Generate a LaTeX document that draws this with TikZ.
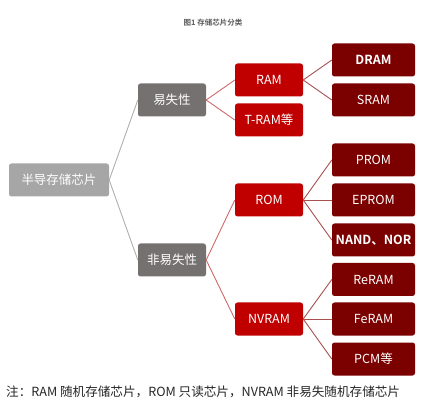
\documentclass[tikz,border=0pt]{standalone}
\usepackage{fontspec}
\setmainfont{Noto Sans CJK SC}[BoldFont={Noto Sans CJK SC Bold}]
\definecolor{rootgray}{HTML}{A6A6A6}
\definecolor{midgray}{HTML}{767171}
\definecolor{brightred}{HTML}{C00000}
\definecolor{darkred}{HTML}{7B0000}
\definecolor{linegray}{HTML}{AFAFAF}
\definecolor{linered}{HTML}{CC6A6A}
\definecolor{linedark}{HTML}{A85050}
\definecolor{titlegray}{HTML}{595959}
\definecolor{notetext}{HTML}{262626}
\tikzset{
  box/.style={rounded corners=2.5pt, text=white, align=center, inner sep=0pt,
    minimum height=33pt, font=\fontsize{12.5}{14}\selectfont},
  rootbox/.style={box, fill=rootgray, minimum width=100pt},
  graybox/.style={box, fill=midgray, minimum width=68pt},
  redbox/.style={box, fill=brightred, minimum width=68pt},
  leafbox/.style={box, fill=darkred, minimum width=83pt},
  glink/.style={draw=linegray, line width=0.9pt},
  rlink/.style={draw=linered, line width=0.9pt},
  dlink/.style={draw=linedark, line width=0.9pt},
}
\begin{document}
\begin{tikzpicture}[x=1pt,y=-1pt]
\useasboundingbox (0,0) rectangle (424,404);
\node[font=\bfseries\fontsize{7.5}{9}\selectfont, text=titlegray] (title) at (213,23) {图1 存储芯片分类};

\node[rootbox] (root) at (59,180) {半导存储芯片};
\node[graybox] (vol) at (172,100) {易失性};
\node[graybox] (nonvol) at (172,260) {非易失性};

\node[redbox] (ram) at (269,80) {RAM};
\node[redbox] (tram) at (269,120) {T-RAM等};
\node[redbox] (rom) at (269,200) {ROM};
\node[redbox] (nvram) at (269,319) {NVRAM};

\node[leafbox, font=\bfseries\fontsize{12.5}{14}\selectfont] (dram) at (373.5,60) {DRAM};
\node[leafbox] (sram) at (373.5,100) {SRAM};
\node[leafbox] (prom) at (373.5,160) {PROM};
\node[leafbox] (eprom) at (373.5,200) {EPROM};
\node[leafbox, font=\bfseries\fontsize{12.5}{14}\selectfont] (nand) at (373.5,240) {NAND、NOR};
\node[leafbox] (reram) at (373.5,279.5) {ReRAM};
\node[leafbox] (feram) at (373.5,319) {FeRAM};
\node[leafbox] (pcm) at (373.5,359) {PCM等};

\draw[glink] (root.east) -- (vol.west);
\draw[glink] (root.east) -- (nonvol.west);
\draw[rlink] (vol.east) -- (ram.west);
\draw[rlink] (vol.east) -- (tram.west);
\draw[rlink] (nonvol.east) -- (rom.west);
\draw[rlink] (nonvol.east) -- (nvram.west);
\draw[dlink] (ram.east) -- (dram.west);
\draw[dlink] (ram.east) -- (sram.west);
\draw[dlink] (rom.east) -- (prom.west);
\draw[dlink] (rom.east) -- (eprom.west);
\draw[dlink] (rom.east) -- (nand.west);
\draw[dlink] (nvram.east) -- (reram.west);
\draw[dlink] (nvram.east) -- (feram.west);
\draw[dlink] (nvram.east) -- (pcm.west);

\node[anchor=west, text=notetext, font=\fontsize{12.6}{15}\selectfont, inner sep=0pt] (note) at (6,392) {注：RAM 随机存储芯片，ROM 只读芯片，NVRAM 非易失随机存储芯片};
\end{tikzpicture}
\end{document}
